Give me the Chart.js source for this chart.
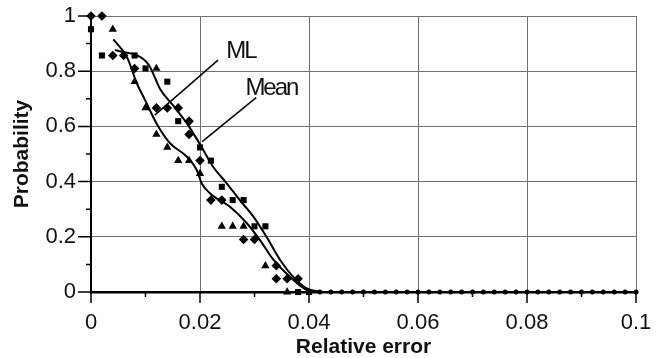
<!DOCTYPE html>
<html>
<head>
<meta charset="utf-8">
<script src="https://cdn.jsdelivr.net/npm/chart.js@4/dist/chart.umd.min.js"></script>
<style>
  html, body { margin: 0; padding: 0; background: #fff; }
  #wrap { width: 656px; height: 358px; }
</style>
</head>
<body>
<div id="wrap"><canvas id="chart" width="656" height="358"></canvas></div>
<script>
// data
const triX = [0.004, 0.008, 0.010, 0.012, 0.012, 0.014, 0.016, 0.018, 0.020, 0.024, 0.026, 0.028, 0.032, 0.036];
const triY = [0.952, 0.762, 0.667, 0.810, 0.571, 0.524, 0.476, 0.476, 0.429, 0.238, 0.238, 0.238, 0.095, 0.0];

const sqX = [0.000, 0.002, 0.008, 0.010, 0.014, 0.016, 0.020, 0.022, 0.024, 0.026, 0.028, 0.030, 0.032, 0.038, 0.040];
const sqY = [0.952, 0.857, 0.857, 0.810, 0.762, 0.619, 0.524, 0.476, 0.381, 0.333, 0.333, 0.238, 0.238, 0.0, 0.0];

const dmX = [0.000, 0.002, 0.004, 0.006, 0.008, 0.012, 0.014, 0.016, 0.018, 0.018, 0.020, 0.022, 0.024, 0.028, 0.030, 0.034, 0.034, 0.036, 0.038];
const dmY = [1.0, 1.0, 0.857, 0.857, 0.810, 0.667, 0.667, 0.667, 0.619, 0.571, 0.476, 0.333, 0.333, 0.190, 0.190, 0.095, 0.048, 0.048, 0.048];

// points lying on the axis after the curves reach zero
const tailX = [0.042, 0.044, 0.046, 0.048, 0.050, 0.052, 0.054, 0.056, 0.058, 0.060, 0.062, 0.064, 0.066, 0.068, 0.070,
  0.072, 0.074, 0.076, 0.078, 0.080, 0.082, 0.084, 0.086, 0.088, 0.090, 0.092, 0.094, 0.096, 0.098, 0.100];
const tailY = [0, 0, 0, 0, 0, 0, 0, 0, 0, 0, 0, 0, 0, 0, 0, 0, 0, 0, 0, 0, 0, 0, 0, 0, 0, 0, 0, 0, 0, 0];

// fitted curves
const mlX = [0.0041, 0.0066, 0.0084, 0.0099, 0.0121, 0.0145, 0.0176, 0.0194, 0.0203, 0.0218, 0.0255, 0.0286, 0.0310, 0.0335, 0.0365, 0.0396, 0.0420];
const mlY = [0.915, 0.851, 0.757, 0.696, 0.608, 0.539, 0.490, 0.442, 0.394, 0.358, 0.309, 0.249, 0.188, 0.116, 0.055, 0.007, 0.0];

const meanX = [0.0044, 0.0105, 0.0127, 0.0151, 0.0176, 0.0200, 0.0224, 0.0249, 0.0273, 0.0298, 0.0322, 0.0347, 0.0371, 0.0396, 0.0420];
const meanY = [0.877, 0.826, 0.735, 0.675, 0.611, 0.535, 0.454, 0.394, 0.333, 0.273, 0.200, 0.116, 0.055, 0.013, 0.0];

// labels with pointer lines: text baseline centre, [fromX, fromY, toX, toY]
const mlLabel = { text: 'ML', at: [0.0275, 0.848], line: [0.0233, 0.840, 0.0117, 0.641] };
const meanLabel = { text: 'Mean', at: [0.0331, 0.714], line: [0.0303, 0.704, 0.0204, 0.545] };

const FONT = '"Liberation Sans", Arial, sans-serif';

const pts = (xs, ys) => xs.map((x, i) => ({ x: x, y: ys[i] }));

function scatterSet(xs, ys, style, r) {
  return {
    type: 'scatter',
    data: pts(xs, ys),
    pointStyle: style,
    pointRadius: r,
    pointBackgroundColor: '#000',
    pointBorderColor: '#000',
    pointBorderWidth: 0,
    clip: false
  };
}

function curveSet(xs, ys) {
  return {
    type: 'line',
    data: pts(xs, ys),
    borderColor: '#000',
    borderWidth: 2,
    pointRadius: 0,
    cubicInterpolationMode: 'monotone',
    fill: false,
    clip: false
  };
}

function pointerSet(lbl) {
  const l = lbl.line;
  return {
    type: 'line',
    data: [{ x: l[0], y: l[1] }, { x: l[2], y: l[3] }],
    borderColor: '#000',
    borderWidth: 1.5,
    pointRadius: 0,
    tension: 0
  };
}

// minor/major tick marks outside the plot and the ML / Mean texts
const extras = {
  id: 'extras',
  afterDraw(chart) {
    const ctx = chart.ctx;
    const xs = chart.scales.x, ys = chart.scales.y;
    const area = chart.chartArea;
    ctx.save();
    ctx.strokeStyle = '#000';
    ctx.lineWidth = 1.5;
    const xt = xs.ticks.map(t => t.value);
    ctx.beginPath();
    xt.forEach((v, i) => {
      const px = xs.getPixelForValue(v);
      ctx.moveTo(px, area.bottom); ctx.lineTo(px, area.bottom + 11);
      if (i < xt.length - 1) {
        const mx = xs.getPixelForValue((v + xt[i + 1]) / 2);
        ctx.moveTo(mx, area.bottom); ctx.lineTo(mx, area.bottom + 5);
      }
    });
    const yt = ys.ticks.map(t => t.value);
    yt.forEach((v, i) => {
      const py = ys.getPixelForValue(v);
      ctx.moveTo(area.left, py); ctx.lineTo(area.left - 13, py);
      if (i < yt.length - 1) {
        const my = ys.getPixelForValue((v + yt[i + 1]) / 2);
        ctx.moveTo(area.left, my); ctx.lineTo(area.left - 5, my);
      }
    });
    ctx.stroke();

    ctx.fillStyle = '#111';
    ctx.font = '24px ' + FONT;
    ctx.letterSpacing = '-2px';
    ctx.textAlign = 'center';
    ctx.textBaseline = 'alphabetic';
    [mlLabel, meanLabel].forEach(l => {
      ctx.fillText(l.text, xs.getPixelForValue(l.at[0]), ys.getPixelForValue(l.at[1]));
    });
    ctx.restore();
  }
};

const tickFmt = v => String(+Number(v).toFixed(3));

new Chart(document.getElementById('chart'), {
  data: {
    datasets: [
      curveSet(mlX, mlY),
      curveSet(meanX, meanY),
      pointerSet(mlLabel),
      pointerSet(meanLabel),
      scatterSet(triX, triY, 'triangle', 4.8),
      scatterSet(sqX, sqY, 'rect', 4.3),
      scatterSet(dmX, dmY, 'rectRot', 4.8),
      scatterSet(tailX, tailY, 'circle', 2.5)
    ]
  },
  options: {
    responsive: false,
    animation: false,
    events: [],
    layout: { padding: { left: 0, right: 20, top: 16, bottom: 0 } },
    plugins: { legend: { display: false }, tooltip: { enabled: false } },
    scales: {
      x: {
        type: 'linear',
        min: 0, max: 0.1,
        ticks: { stepSize: 0.02, callback: tickFmt, color: '#111', padding: 18,
          font: { family: FONT, size: 22 }, maxRotation: 0 },
        grid: { color: '#707070', lineWidth: 1, drawTicks: false },
        border: { color: '#000', width: 2.5 },
        title: { display: true, text: 'Relative error', color: '#111', padding: 0,
          font: { family: FONT, size: 21, weight: 'bold', lineHeight: 1 } },
        afterFit(s) { s.height = 66; s.paddingLeft = 0; s.paddingRight = 0; }
      },
      y: {
        type: 'linear',
        min: 0, max: 1,
        ticks: { stepSize: 0.2, callback: tickFmt, color: '#111', padding: 15,
          font: { family: FONT, size: 22 } },
        grid: { color: '#707070', lineWidth: 1, drawTicks: false },
        border: { color: '#000', width: 2 },
        title: { display: true, text: 'Probability', color: '#111', padding: { top: 12, bottom: 0 },
          font: { family: FONT, size: 21, weight: 'bold', lineHeight: 1 } },
        afterFit(s) { s.width = 91; s.paddingTop = 0; s.paddingBottom = 0; }
      }
    }
  },
  plugins: [extras]
});
</script>
</body>
</html>
